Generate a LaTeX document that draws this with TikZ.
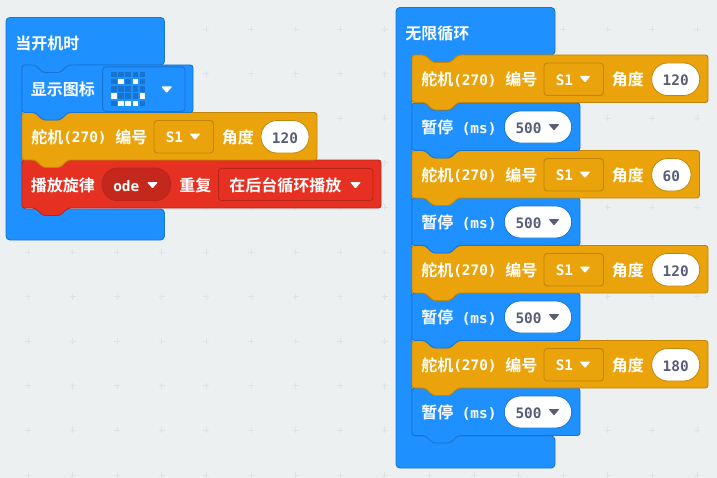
\documentclass[tikz,border=0pt]{standalone}
\usepackage{fontspec}
\newfontfamily\cjkfam{Noto Sans CJK SC}[BoldFont=* Bold]
\newfontfamily\monofam{DejaVu Sans Mono}[BoldFont=* Bold]
\definecolor{bgc}{HTML}{ECF0F1}
\definecolor{plusc}{HTML}{DEE3E5}
\definecolor{bluef}{HTML}{1E90FF}
\definecolor{bluee}{HTML}{1A75CF}
\definecolor{bluedark}{HTML}{1873CC}
\definecolor{orangef}{HTML}{EBA30B}
\definecolor{orangee}{HTML}{C08509}
\definecolor{redf}{HTML}{E63022}
\definecolor{rede}{HTML}{B8261B}
\definecolor{reddark}{HTML}{C4281C}
\definecolor{slate}{HTML}{575E75}
\tikzset{
  blockbase/.style={line width=0.7pt,rounded corners=2pt,line join=round},
  blueblock/.style={blockbase,fill=bluef,draw=bluee},
  orangeblock/.style={blockbase,fill=orangef,draw=orangee},
  redblock/.style={blockbase,fill=redf,draw=rede},
  cjktext/.style={anchor=mid west,inner sep=0pt,yshift=-3pt,text=white,font=\cjkfam\bfseries\fontsize{12}{14}\selectfont},
  monotext/.style={anchor=mid west,inner sep=0pt,yshift=-2.6pt,text=white,font=\monofam\bfseries\fontsize{10.8}{13}\selectfont},
  valtext/.style={anchor=mid,inner sep=0pt,yshift=-2.6pt,text=slate,font=\monofam\bfseries\fontsize{10.8}{13}\selectfont},
  fieldbox/.style={line width=0.7pt,rounded corners=2.5pt},
  pillbox/.style={fill=white,draw=orangee,line width=0.6pt,rounded corners=12pt},
}
% style, left, top, right, bottom
\newcommand\stackblock[5]{%
  \path[#1] (#2,#3) -- ++(13,0) -- ++(8,7.5) -- ++(17,0) -- ++(8,-7.5) -- (#4,#3) -- (#4,#5)
    -- ({#2+46},#5) -- ++(-8,7.5) -- ++(-17,0) -- ++(-8,-7.5) -- (#2,#5) -- cycle;}
% colour, centre x, centre y
\newcommand\caret[3]{\fill[#1,rounded corners=0.7pt,line join=round] ({#2-5.5},{#3-3}) -- ({#2+5.5},{#3-3}) -- (#2,{#3+3.5}) -- cycle;}
% prefix, left, top, right
\newcommand\servoblock[4]{%
  \stackblock{orangeblock}{#2}{#3}{#4}{{#3+47.5}}
  \node[cjktext] (#1a) at ({#2+9},{#3+24}) {舵机};
  \node[monotext] (#1b) at ({#2+41},{#3+24}) {(270)};
  \node[cjktext] (#1c) at ({#2+93},{#3+24}) {编号};
  \path[fieldbox,draw=orangee] ({#2+132},{#3+8}) rectangle ({#2+191.5},{#3+40.5});
  \node[monotext] (#1d) at ({#2+143.5},{#3+24}) {S1};
  \caret{white}{#2+173}{#3+24}
  \node[cjktext] (#1e) at ({#2+199.5},{#3+24}) {角度};
}
% name, x1, x2, top, text
\newcommand\valuepill[5]{%
  \path[pillbox] (#2,{#4+8}) rectangle (#3,{#4+40.5});
  \node[valtext] (#1) at ({(#2+#3)/2},{#4+24.5}) {#5};}
% prefix, top
\newcommand\waitblock[2]{%
  \stackblock{blueblock}{412}{#2}{580}{{#2+47.5}}
  \node[cjktext] (#1a) at (421,{#2+24}) {暂停};
  \node[monotext] (#1b) at (461.5,{#2+24}) {(ms)};
  \path[pillbox,draw=bluee] (504.3,{#2+8}) rectangle (571.7,{#2+40});
  \node[valtext] (#1c) at (528.5,{#2+24.5}) {500};
  \caret{slate}{554}{#2+24}}
\begin{document}
\begin{tikzpicture}[x=0.75pt,y=-0.75pt]
\useasboundingbox (0,0) rectangle (717,478);
\fill[bgc] (0,0) rectangle (717,478);
% workspace grid
\foreach \i in {0,...,15}{
  \foreach \j in {0,...,10}{
    \draw[plusc,line width=0.7pt] ({28+44.6*\i-3},{29+44.6*\j}) -- ++(6,0)
      ({28+44.6*\i},{29+44.6*\j-3}) -- ++(0,6);
  }
}
% ---------- left stack
\path[blueblock,rounded corners=3pt] (6,17.5) -- (164.5,17.5) -- (164.5,65) -- (22,65) -- (22,209) -- (164.5,209) -- (164.5,240) -- (6,240) -- cycle;
\fill[bluef] (30,60) rectangle (75,75);
\node[cjktext] (startlabel) at (15,43) {当开机时};
% red
\stackblock{redblock}{22}{160}{381}{208}
\node[cjktext] (playlabel) at (30.5,184.5) {播放旋律};
\path[fieldbox,fill=reddark,draw=rede,rounded corners=12pt] (102,168) rectangle (170.7,200.7);
\node[monotext] (odelabel) at (113,185) {ode};
\caret{white}{152.5}{185}
\node[cjktext] (repeatlabel) at (179,184.5) {重复};
\path[fieldbox,draw=rede] (218.5,168.3) rectangle (373,200.7);
\node[cjktext] (bglabel) at (229,184.5) {在后台循环播放};
\caret{white}{355.5}{185}
% orange
\servoblock{ls}{22}{112.5}{317}
\valuepill{lsv}{261}{309}{112.5}{120}
% icon block
\stackblock{blueblock}{22}{65}{193}{112.5}
\node[cjktext] (iconlabel) at (30.5,89) {显示图标};
\path[fieldbox,draw=bluee] (102.7,66.8) rectangle (185,111.5);
\foreach \c/\r/\v in {0/0/0,1/0/0,2/0/0,3/0/0,4/0/0,
                      0/1/0,1/1/1,2/1/0,3/1/1,4/1/0,
                      0/2/0,1/2/0,2/2/0,3/2/0,4/2/0,
                      0/3/1,1/3/0,2/3/0,3/3/0,4/3/1,
                      0/4/0,1/4/1,2/4/1,3/4/1,4/4/0}{
  \ifnum\v=1
    \fill[white] ({111+7.2*\c},{71.7+7.2*\r}) rectangle ++(5.6,5.6);
  \else
    \fill[bluedark] ({111+7.2*\c},{71.7+7.2*\r}) rectangle ++(5.6,5.6);
  \fi
}
\caret{white}{166.7}{89.5}
% ---------- right stack
\path[blueblock,rounded corners=3pt] (396,7.5) -- (555,7.5) -- (555,55) -- (412,55) -- (412,436) -- (555,436) -- (555,468) -- (396,468) -- cycle;
\fill[bluef] (420,50) rectangle (465,65);
\node[cjktext] (looplabel) at (405,33) {无限循环};
\waitblock{wd}{388}
\servoblock{sd}{412}{340.5}{708}
\valuepill{sdv}{651.7}{699.7}{340.5}{180}
\waitblock{wc}{293}
\servoblock{sc}{412}{245.5}{708}
\valuepill{scv}{651.7}{699.7}{245.5}{120}
\waitblock{wb}{198}
\servoblock{sb}{412}{150.5}{699.5}
\valuepill{sbv}{651.7}{691}{150.5}{60}
\waitblock{wa}{103}
\servoblock{sa}{412}{55}{708}
\valuepill{sav}{651.7}{699.7}{55}{120}
\end{tikzpicture}
\end{document}
